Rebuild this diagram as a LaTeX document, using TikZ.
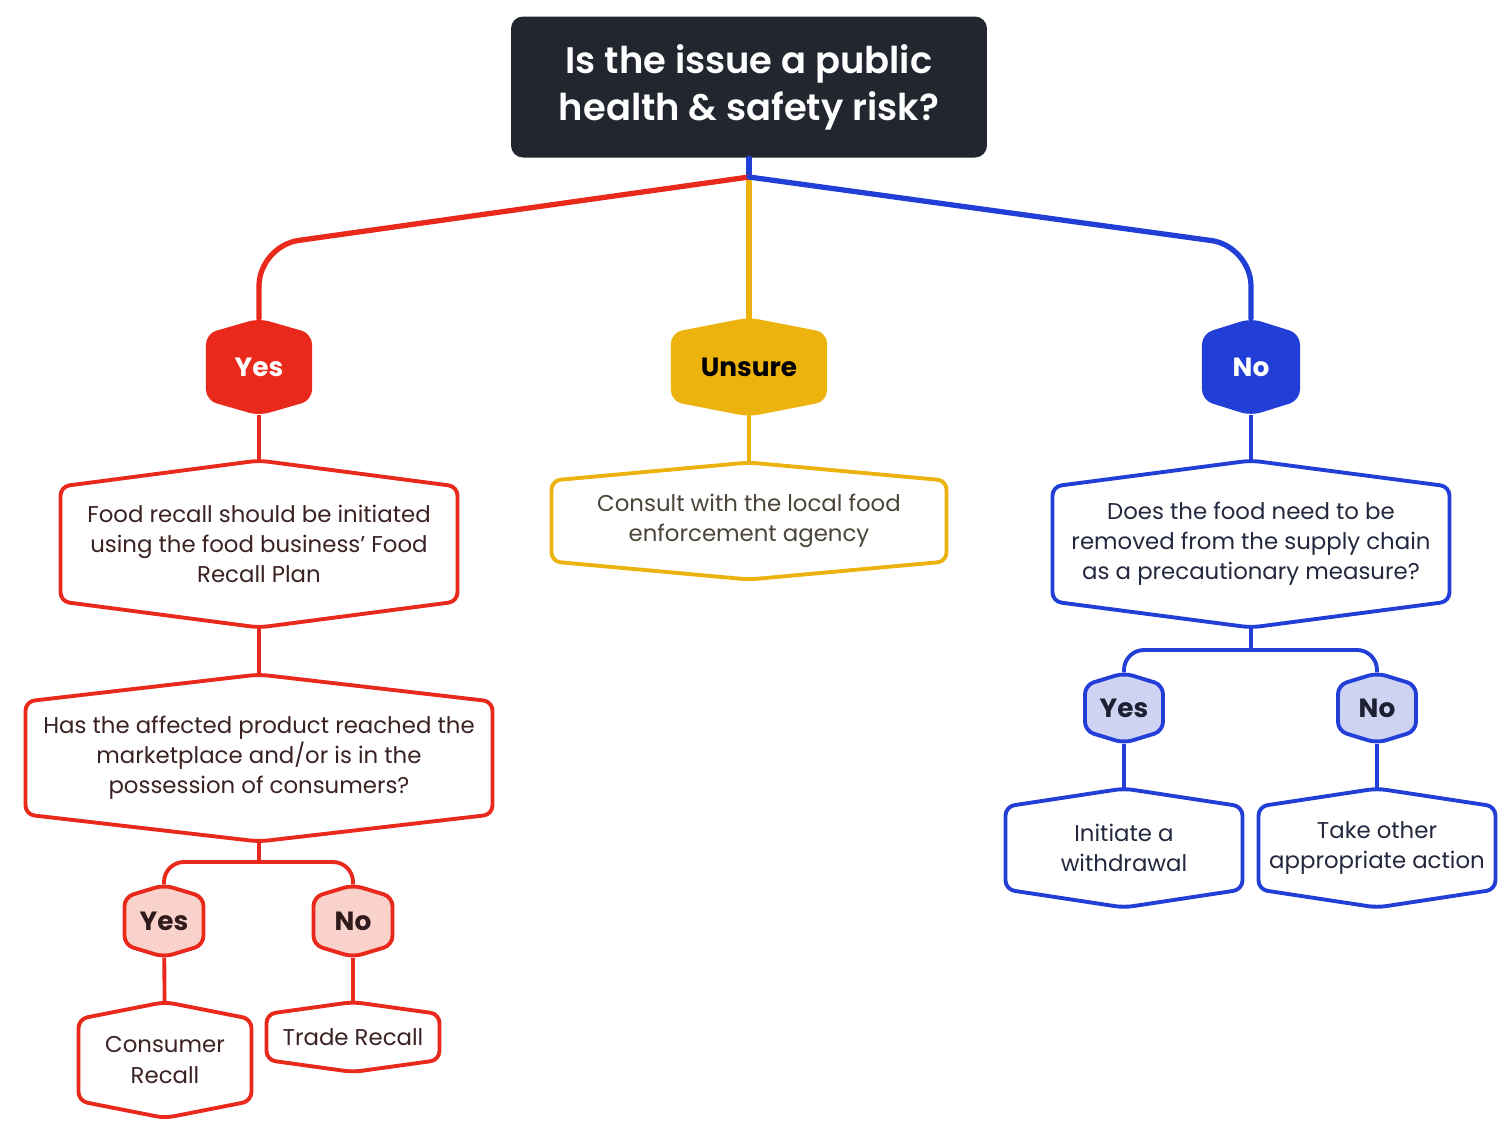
\documentclass[tikz,border=0pt]{standalone}
\usepackage{fontspec}
\setmainfont{Poppins}
\newfontfamily\semibold{Poppins}[UprightFont={* SemiBold}]
\definecolor{slatebg}{HTML}{22272F}
\definecolor{recallred}{HTML}{E8291C}
\definecolor{unsuregold}{HTML}{ECB30F}
\definecolor{riskblue}{HTML}{213ED6}
\definecolor{pinkfill}{HTML}{F8D2CB}
\definecolor{lavfill}{HTML}{CED3F2}
\definecolor{redink}{HTML}{3B2222}
\definecolor{goldink}{HTML}{4A4538}
\definecolor{blueink}{HTML}{23283F}
\tikzset{
  branch/.style={line width=1.5pt, line cap=round},
  redline/.style={branch, draw=recallred},
  goldline/.style={branch, draw=unsuregold},
  blueline/.style={branch, draw=riskblue},
  redthin/.style={line width=1.1pt, draw=recallred},
  bluethin/.style={line width=1.1pt, draw=riskblue},
  bodyfont/.style={font=\fontsize{6.5}{8.6}\selectfont},
  badgefont/.style={font=\bfseries\fontsize{7.5}{9}\selectfont},
  redbox/.style={draw=recallred, line width=1.1pt, rounded corners=0.9mm, fill=white},
  redbox text/.style={bodyfont, text=redink, align=center, inner sep=0pt},
  goldbox/.style={draw=unsuregold, line width=1.1pt, rounded corners=0.9mm, fill=white},
  goldbox text/.style={bodyfont, text=goldink, align=center, inner sep=0pt},
  bluebox/.style={draw=riskblue, line width=1.1pt, rounded corners=0.9mm, fill=white},
  bluebox text/.style={bodyfont, text=blueink, align=center, inner sep=0pt},
  redbadge/.style={fill=recallred, draw=recallred, line width=0.6pt, rounded corners=1mm},
  redbadge text/.style={badgefont, text=white, inner sep=0pt},
  goldbadge/.style={fill=unsuregold, draw=unsuregold, line width=0.6pt, rounded corners=1mm},
  goldbadge text/.style={badgefont, text=black, inner sep=0pt},
  bluebadge/.style={fill=riskblue, draw=riskblue, line width=0.6pt, rounded corners=1mm},
  bluebadge text/.style={badgefont, text=white, inner sep=0pt},
  pinkbadge/.style={fill=pinkfill, draw=recallred, line width=1.1pt, rounded corners=0.9mm},
  pinkbadge text/.style={badgefont, text=redink!80!black, inner sep=0pt},
  lavbadge/.style={fill=lavfill, draw=riskblue, line width=1.1pt, rounded corners=0.9mm},
  lavbadge text/.style={badgefont, text=blueink!80!black, inner sep=0pt},
  titlebox/.style={fill=slatebg, rounded corners=1.2mm, minimum width=47.6mm, minimum height=14.1mm,
    text=white, align=center, font=\semibold\fontsize{10.5}{13.4}\selectfont}
}
% hexagon with pointed top and bottom: style, name, x, y, width, height, shoulder, text
\newcommand{\hexnode}[8]{%
  \draw[#1] ({#3+#5/2},#4) -- ({#3+#5/2},{#4+#6/2-#7}) -- (#3,{#4+#6/2})
    -- ({#3-#5/2},{#4+#6/2-#7}) -- ({#3-#5/2},{#4-#6/2+#7}) -- (#3,{#4-#6/2})
    -- ({#3+#5/2},{#4-#6/2+#7}) -- cycle;
  \node[#1 text, minimum height=#6*0.1mm] (#2) at (#3,#4) {#8};}

\begin{document}
\begin{tikzpicture}[x=0.1mm, y=-0.1mm]
  \useasboundingbox (0,0) rectangle (1504,1124);

  \node[titlebox] (issue) at (749,87) {Is the issue a public\\health \& safety risk?};
  \coordinate (split) at (749,177);
  \coordinate (redbend) at (259,246);
  \coordinate (bluebend) at (1251,246);

  % answers
  \hexnode{redbadge}{yesA}{259}{367}{104}{95}{15}{Yes}
  \hexnode{goldbadge}{unsure}{749}{367}{154}{97}{15}{Unsure}
  \hexnode{bluebadge}{noA}{1251}{367}{96}{95}{15}{No}

  \draw[goldline] (split) -- (unsure);
  \draw[blueline] (issue) -- (split);
  \draw[redline, rounded corners=4mm] (split) -- (redbend) -- (yesA);
  \draw[blueline, rounded corners=4mm] (split) -- (bluebend) -- (noA);

  % yes branch
  \hexnode{redbox}{recall}{259}{544}{397}{167}{26}{Food recall should be initiated\\using the food business’ Food\\Recall Plan}
  \hexnode{redbox}{reached}{259}{758}{467}{167}{27}{Has the affected product reached the\\marketplace and/or is in the\\possession of consumers?}
  \hexnode{pinkbadge}{cyes}{164}{921}{79}{72}{12}{Yes}
  \hexnode{pinkbadge}{cno}{353}{921}{79}{72}{12}{No}
  \hexnode{redbox}{consumer}{165}{1060}{173}{116}{17}{Consumer\\Recall}
  \hexnode{redbox}{trade}{353}{1037}{173}{70}{12}{Trade Recall}
  \coordinate (redtee) at (259,862);
  \draw[redthin] (yesA) -- (recall);
  \draw[redthin] (recall) -- (reached);
  \draw[redthin] (reached) -- (redtee);
  \draw[redthin, rounded corners=2mm] (redtee) -| (cyes);
  \draw[redthin, rounded corners=2mm] (redtee) -| (cno);
  \draw[redthin] (cyes) -- (consumer);
  \draw[redthin] (cno) -- (trade);

  % unsure branch
  \hexnode{goldbox}{consult}{749}{521}{395}{117}{18}{Consult with the local food\\enforcement agency}
  \draw[goldline, line width=1.1pt] (unsure) -- (consult);

  % no branch
  \hexnode{bluebox}{precaution}{1251}{544}{397}{167}{26}{Does the food need to be\\removed from the supply chain\\as a precautionary measure?}
  \hexnode{lavbadge}{byes}{1124}{708}{78}{70}{12}{Yes}
  \hexnode{lavbadge}{bno}{1377}{708}{78}{70}{12}{No}
  \hexnode{bluebox}{withdraw}{1124}{848}{237}{119}{18}{Initiate a\\withdrawal}
  \hexnode{bluebox}{other}{1377}{848}{237}{119}{18}{Take other\\appropriate action}
  \coordinate (bluetee) at (1251,650);
  \draw[bluethin] (noA) -- (precaution);
  \draw[bluethin] (precaution) -- (bluetee);
  \draw[bluethin, rounded corners=2mm] (bluetee) -| (byes);
  \draw[bluethin, rounded corners=2mm] (bluetee) -| (bno);
  \draw[bluethin] (byes) -- (withdraw);
  \draw[bluethin] (bno) -- (other);
\end{tikzpicture}
\end{document}
